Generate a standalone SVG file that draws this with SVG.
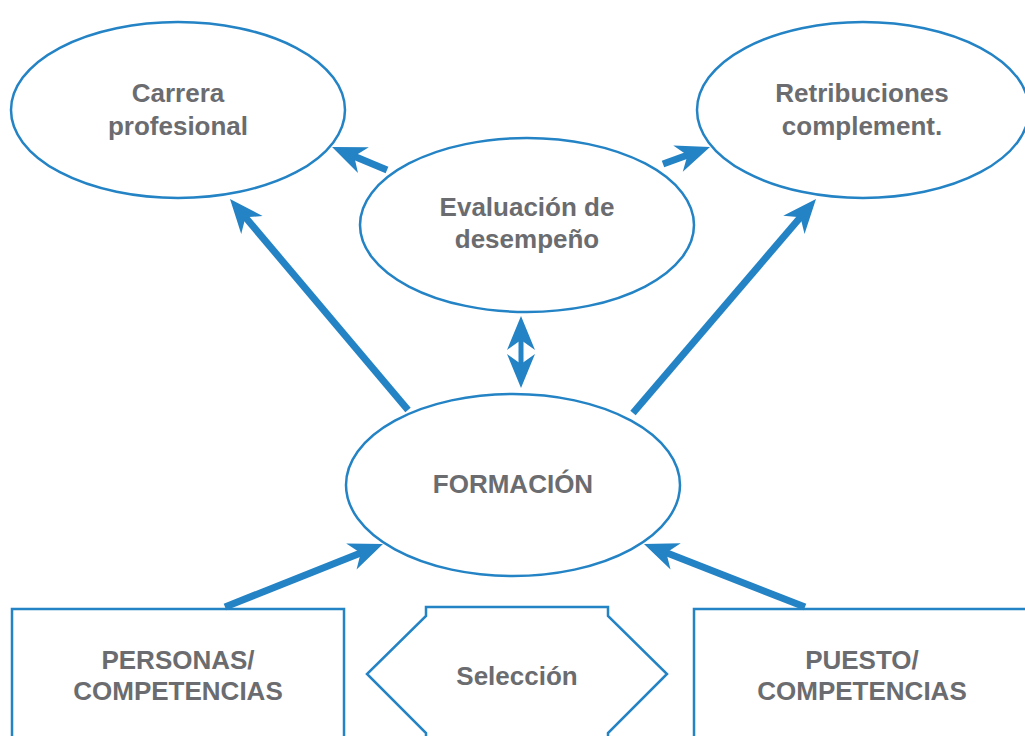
<svg xmlns="http://www.w3.org/2000/svg" width="1025" height="736" viewBox="0 0 1025 736">
<style>
.shape{fill:#fff;stroke:#2383c4;stroke-width:2.5}
.lbl{font-family:"Liberation Sans",Arial,sans-serif;font-weight:bold;font-size:26px;fill:#6b6c6f;text-anchor:middle}
.conn{stroke:#2383c4;stroke-width:7;fill:none;marker-end:url(#ah)}
</style>
<defs>
<marker id="ah" markerUnits="userSpaceOnUse" markerWidth="40" markerHeight="30" refX="14" refY="15" orient="auto-start-reverse" overflow="visible">
<path d="M34,15 L0,1 L10,15 L0,29 Z" fill="#2383c4"/>
</marker>
</defs>
<rect width="1025" height="736" fill="#fff"/>
<g id="carrera"><ellipse class="shape" cx="178" cy="110" rx="167" ry="88"/><text class="lbl" x="178" y="102">Carrera</text><text class="lbl" x="178" y="135">profesional</text></g>
<g id="retribuciones"><ellipse class="shape" cx="863" cy="110" rx="166" ry="88"/><text class="lbl" x="862" y="102">Retribuciones</text><text class="lbl" x="862" y="135">complement.</text></g>
<g id="evaluacion"><ellipse class="shape" cx="527" cy="225" rx="167" ry="87"/><text class="lbl" x="527" y="216">Evaluación de</text><text class="lbl" x="527" y="248">desempeño</text></g>
<g id="formacion"><ellipse class="shape" cx="513" cy="485" rx="167" ry="91"/><text class="lbl" x="513" y="493">FORMACIÓN</text></g>
<g id="personas"><rect class="shape" x="12" y="609" width="332" height="140"/><text class="lbl" x="178" y="669">PERSONAS/</text><text class="lbl" x="178" y="700">COMPETENCIAS</text></g>
<g id="seleccion"><path class="shape" d="M426,616 L426,607 L608,607 L608,616 L667,674 L608,733 L608,740 L426,740 L426,733 L367,674 Z"/><text class="lbl" x="517" y="685">Selección</text></g>
<g id="puesto"><rect class="shape" x="694" y="609" width="340" height="140"/><text class="lbl" x="862" y="669">PUESTO/</text><text class="lbl" x="862" y="700">COMPETENCIAS</text></g>
<g id="connectors">
<path class="conn" d="M387,170 L350.5,154.7"/>
<path class="conn" d="M663,164 L691.2,153.8"/>
<path class="conn" d="M408,410 L242.9,214.3"/>
<path class="conn" d="M633,413 L803,214.2"/>
<path class="conn" d="M225,607 L364.4,551.4"/>
<path class="conn" d="M805,607 L662.6,551.3"/>
<path class="conn" style="stroke-width:5;marker-start:url(#ah)" d="M521,336 L521,368"/>
</g>
</svg>
